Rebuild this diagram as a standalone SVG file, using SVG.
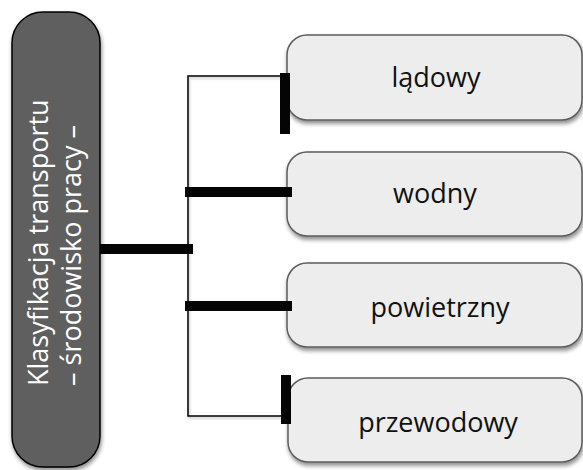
<svg xmlns="http://www.w3.org/2000/svg" width="583" height="470" viewBox="0 0 583 470">
  <defs>
    <filter id="sh" x="-10%" y="-10%" width="125%" height="130%">
      <feGaussianBlur in="SourceAlpha" stdDeviation="2"/>
      <feOffset dx="1" dy="3" result="b"/>
      <feComponentTransfer><feFuncA type="linear" slope="0.45"/></feComponentTransfer>
      <feMerge><feMergeNode/><feMergeNode in="SourceGraphic"/></feMerge>
    </filter>
    <filter id="lsh" x="-5%" y="-5%" width="110%" height="110%">
      <feGaussianBlur in="SourceAlpha" stdDeviation="1"/>
      <feOffset dx="1" dy="2" result="b"/>
      <feComponentTransfer><feFuncA type="linear" slope="0.25"/></feComponentTransfer>
      <feMerge><feMergeNode/><feMergeNode in="SourceGraphic"/></feMerge>
    </filter>
  </defs>
  <style>
    .box { fill: #ededed; stroke: #5c5c5c; stroke-width: 1.5; }
    .lbl { font-family: "Open Sans", "Noto Sans", "DejaVu Sans", sans-serif; font-size: 27px; fill: #111111; text-anchor: middle; }
    .ttl { font-family: "Open Sans", "Noto Sans", "DejaVu Sans", sans-serif; font-size: 27px; fill: #ffffff; }
    .thin { fill: none; stroke: #000000; stroke-width: 1.5; }
    .bar { fill: #050505; }
  </style>
  <g id="root-node">
    <rect x="12" y="12" width="88" height="455" rx="31" ry="31" fill="#5f5f5f" stroke="#000000" stroke-width="1.5" filter="url(#sh)"/>
    <g transform="rotate(-90)">
      <text class="ttl" x="-386" y="48">Klasyfikacja transportu</text>
      <text class="ttl" x="-386" y="81">– środowisko pracy –</text>
    </g>
  </g>
  <g id="node-ladowy">
    <rect class="box" x="287" y="35" width="295" height="85" rx="20" ry="20" filter="url(#sh)"/>
    <text class="lbl" x="436" y="87">lądowy</text>
  </g>
  <g id="node-wodny">
    <rect class="box" x="287" y="152" width="295" height="84" rx="20" ry="20" filter="url(#sh)"/>
    <text class="lbl" x="435" y="203">wodny</text>
  </g>
  <g id="node-powietrzny">
    <rect class="box" x="287" y="263" width="295" height="84" rx="20" ry="20" filter="url(#sh)"/>
    <text class="lbl" x="440" y="317">powietrzny</text>
  </g>
  <g id="node-przewodowy">
    <rect class="box" x="288" y="378" width="294" height="84" rx="20" ry="20" filter="url(#sh)"/>
    <text class="lbl" x="438" y="432">przewodowy</text>
  </g>
  <g id="connectors">
    <path class="thin" d="M283 76 H188 V416 H283" filter="url(#lsh)"/>
    <rect class="bar" x="100" y="244" width="93" height="10"/>
    <rect class="bar" x="280" y="73" width="10" height="61"/>
    <rect class="bar" x="185" y="187" width="107" height="10"/>
    <rect class="bar" x="185" y="301" width="107" height="10"/>
    <rect class="bar" x="281" y="375" width="10" height="49"/>
  </g>
</svg>
